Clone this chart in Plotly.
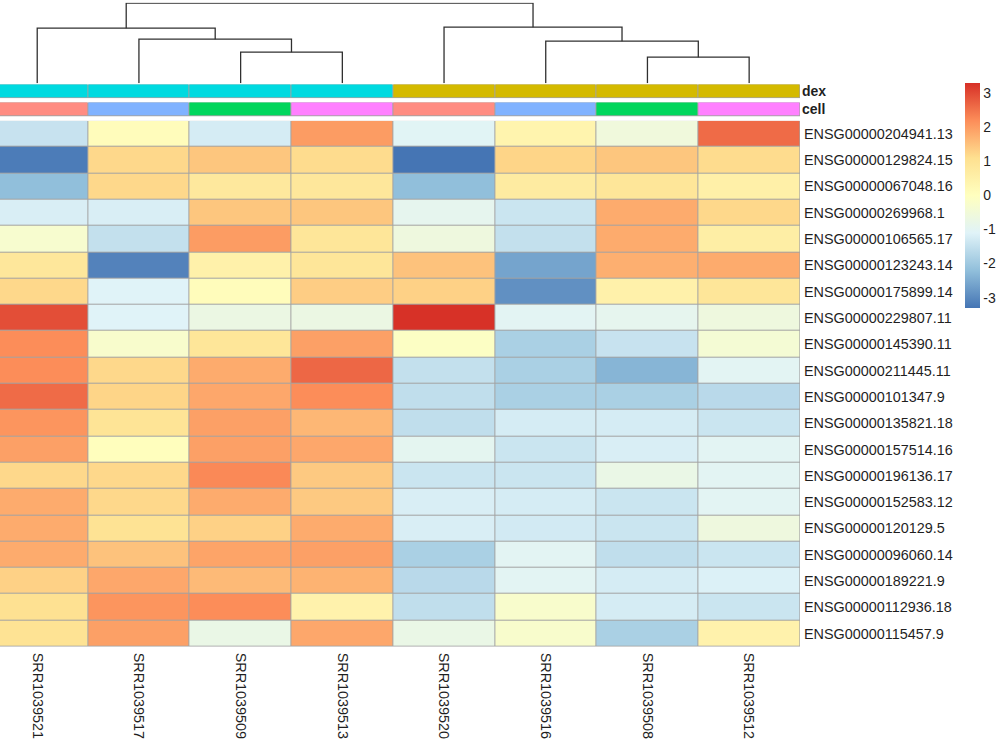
import plotly.graph_objects as go

FONT = "Liberation Sans, Arial, sans-serif"
BORDER = "#A3A3A3"

samples = ["SRR1039521", "SRR1039517", "SRR1039509", "SRR1039513",
           "SRR1039520", "SRR1039516", "SRR1039508", "SRR1039512"]

genes = [
    "ENSG00000204941.13", "ENSG00000129824.15", "ENSG00000067048.16",
    "ENSG00000269968.1", "ENSG00000106565.17", "ENSG00000123243.14",
    "ENSG00000175899.14", "ENSG00000229807.11", "ENSG00000145390.11",
    "ENSG00000211445.11", "ENSG00000101347.9", "ENSG00000135821.18",
    "ENSG00000157514.16", "ENSG00000196136.17", "ENSG00000152583.12",
    "ENSG00000120129.5", "ENSG00000096060.14", "ENSG00000189221.9",
    "ENSG00000112936.18", "ENSG00000115457.9",
]

dex = ["trt", "trt", "trt", "trt", "untrt", "untrt", "untrt", "untrt"]
cell = ["N061011", "N080611", "N61311", "N052611",
        "N061011", "N080611", "N61311", "N052611"]

dex_colors = {"trt": "#00DAE0", "untrt": "#D4BA00"}
cell_colors = {"N061011": "#FF8C82", "N080611": "#80B2FF",
               "N61311": "#00D65C", "N052611": "#FF80FF"}

# row-scaled expression (z-scores), rows follow `genes`, columns follow `samples`
z_rows = [
    [-1.45, 0.10, -1.25, 2.00, -1.05, 0.40, -0.55, 2.60],
    [-3.20, 1.20, 1.45, 1.15, -3.30, 1.25, 1.45, 1.15],
    [-2.20, 1.20, 0.80, 0.85, -2.20, 0.70, 0.90, 0.55],
    [-1.20, -1.20, 1.45, 1.45, -0.90, -1.40, 1.80, 1.20],
    [-0.30, -1.50, 2.00, 0.90, -0.60, -1.50, 1.80, 0.60],
    [0.85, -3.10, 0.50, 0.90, 1.50, -2.60, 1.75, 1.80],
    [1.20, -1.10, 0.10, 1.35, 1.30, -2.90, 0.50, 0.90],
    [2.95, -1.10, -0.70, -0.70, 3.29, -1.00, -0.90, -0.60],
    [2.20, -0.25, 0.90, 1.95, -0.10, -1.85, -1.45, -0.40],
    [2.20, 1.20, 1.80, 2.65, -1.50, -1.85, -2.35, -1.00],
    [2.60, 1.25, 1.85, 2.20, -1.55, -1.85, -1.85, -1.65],
    [2.10, 0.95, 1.95, 1.65, -1.55, -1.25, -1.25, -1.40],
    [1.95, 0.05, 1.95, 1.85, -0.95, -1.40, -1.20, -1.00],
    [1.20, 1.20, 2.25, 1.40, -1.40, -1.40, -0.75, -1.00],
    [1.80, 1.20, 1.80, 1.40, -1.20, -1.25, -1.40, -1.00],
    [1.80, 1.00, 1.30, 1.80, -1.20, -1.30, -1.40, -0.60],
    [1.80, 1.50, 1.90, 1.95, -1.85, -1.00, -1.55, -1.40],
    [1.30, 1.85, 1.60, 1.70, -1.65, -1.00, -1.25, -1.15],
    [1.05, 2.10, 2.20, 0.45, -1.55, -0.25, -1.25, -1.40],
    [1.00, 1.95, -0.75, 1.85, -0.75, -0.25, -1.85, 0.45],
]

# column clustering, hclust style: negative = leaf (1-based), positive = earlier merge
col_merge = [(-3, -4), (-2, 1), (-1, 2), (-7, -8), (-6, 4), (-5, 5), (3, 6)]
col_height = [31, 44, 55, 26, 42, 56, 80]

rdylbu = ["#4575B4", "#91BFDB", "#E0F3F8", "#FFFFBF", "#FEE090", "#FC8D59", "#D73027"]
colorscale = [[i / (len(rdylbu) - 1), c] for i, c in enumerate(rdylbu)]
ticks = [-3, -2, -1, 0, 1, 2, 3]

n_col = len(samples)
n_row = len(genes)
col_idx = list(range(n_col))
row_idx = list(range(n_row))


def node_pos(ref, pos):
    if ref < 0:
        return -ref - 1, 0
    return pos[ref - 1]


def dendro_lines():
    pos = []
    xs, ys = [], []
    for (a, b), h in zip(col_merge, col_height):
        xa, ha = node_pos(a, pos)
        xb, hb = node_pos(b, pos)
        xs += [xa, xa, xb, xb, None]
        ys += [ha, h, h, hb, None]
        pos.append(((xa + xb) / 2, h))
    return xs, ys


def underlay(nr, xa, ya):
    return go.Heatmap(
        z=[[0] * n_col for _ in range(nr)], x=col_idx, y=list(range(nr)),
        colorscale=[[0, BORDER], [1, BORDER]], showscale=False,
        hoverinfo="skip", xaxis=xa, yaxis=ya,
    )


def annot_trace(values, colors, xa, ya):
    levels = list(colors.keys())
    n = len(levels) - 1
    cs = [[i / n, colors[lv]] for i, lv in enumerate(levels)]
    return go.Heatmap(
        z=[[levels.index(v) for v in values]], x=col_idx, y=[0],
        colorscale=cs, zmin=0, zmax=n, showscale=False,
        xgap=1, ygap=1, hoverinfo="skip", xaxis=xa, yaxis=ya,
    )


fig = go.Figure()

fig.add_trace(underlay(n_row, "x", "y"))
fig.add_trace(go.Heatmap(
    z=z_rows, x=col_idx, y=row_idx, colorscale=colorscale,
    zmin=-3.3, zmax=3.3, xgap=1, ygap=1,
    colorbar=dict(
        x=0.965, xanchor="left", y=0.7395, yanchor="middle",
        len=0.3, lenmode="fraction", thickness=15, outlinewidth=0,
        xpad=0, ypad=0,
        tickvals=ticks, ticktext=[str(t) for t in ticks], ticks="",
        tickfont=dict(family=FONT, size=14, color="#1f1f1f"),
    ),
))

dx, dy = dendro_lines()
fig.add_trace(go.Scatter(
    x=dx, y=dy, mode="lines", line=dict(color="#303030", width=1.3),
    hoverinfo="skip", showlegend=False, xaxis="x2", yaxis="y2",
))

fig.add_trace(underlay(1, "x3", "y3"))
fig.add_trace(annot_trace(dex, dex_colors, "x3", "y3"))
fig.add_trace(underlay(1, "x4", "y4"))
fig.add_trace(annot_trace(cell, cell_colors, "x4", "y4"))

x_range = [-0.366, n_col - 0.5]
tick_font = dict(family=FONT, size=14.4, color="#1f1f1f")
bold_font = dict(family=FONT, size=14, color="#1f1f1f", weight="bold")
hidden_x = dict(domain=[0, 0.8], range=x_range, matches="x", visible=False,
                automargin=False)

fig.update_layout(
    width=1000, height=750,
    margin=dict(l=0, r=0, t=0, b=0, autoexpand=False),
    paper_bgcolor="white", plot_bgcolor="white",
    showlegend=False,
    font=dict(family=FONT, size=14, color="#1f1f1f"),
    xaxis=dict(domain=[0, 0.8], range=x_range, tickvals=col_idx, ticktext=samples,
               tickangle=90, ticks="", showgrid=False, zeroline=False,
               showline=False, tickfont=tick_font, anchor="y", automargin=False,
               ticklabelstandoff=5),
    yaxis=dict(domain=[0.1377, 0.8391], range=[n_row - 0.5, -0.5], tickvals=row_idx,
               ticktext=genes, side="right", ticks="", showgrid=False,
               zeroline=False, tickfont=tick_font, anchor="x", automargin=False,
               ticklabelstandoff=3),
    xaxis2=dict(hidden_x, anchor="y2"),
    yaxis2=dict(domain=[0.889, 0.9965], range=[0, 80.5], visible=False, anchor="x2",
                automargin=False),
    xaxis3=dict(hidden_x, anchor="y3"),
    yaxis3=dict(domain=[0.8689, 0.8876], range=[-0.5, 0.5], tickvals=[0], ticktext=["dex"],
                side="right", ticks="", showgrid=False, zeroline=False, anchor="x3",
                tickfont=bold_font, automargin=False, ticklabelstandoff=1),
    xaxis4=dict(hidden_x, anchor="y4"),
    yaxis4=dict(domain=[0.8444, 0.8636], range=[-0.5, 0.5], tickvals=[0], ticktext=["cell"],
                side="right", ticks="", showgrid=False, zeroline=False, anchor="x4",
                tickfont=bold_font, automargin=False, ticklabelstandoff=1),
)

# the page's default 8px body margin would shift the whole figure
fig.write_html("out.html", config={"displayModeBar": False},
               post_script="document.body.style.margin = '0';")
